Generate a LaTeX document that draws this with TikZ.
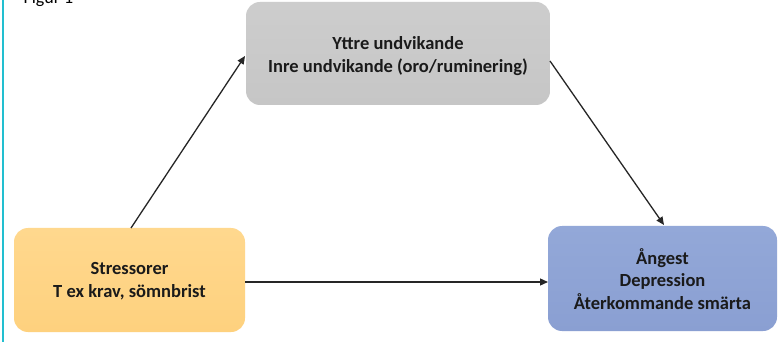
\documentclass[tikz,border=0pt]{standalone}
\usepackage{fontspec}
\setmainfont{Carlito}
\usetikzlibrary{arrows.meta}
\definecolor{grayfill}{HTML}{C6C6C6}
\definecolor{graytop}{HTML}{CDCDCD}
\definecolor{orangefill}{HTML}{FED17E}
\definecolor{orangetop}{HTML}{FFD88E}
\definecolor{bluefill}{HTML}{8A9FD2}
\definecolor{bluetop}{HTML}{93A8D8}
\definecolor{cyanline}{HTML}{22BFD0}
\definecolor{txt}{HTML}{1A1A1A}
\tikzset{
  box/.style={rounded corners=14pt, align=center, font=\bfseries\fontsize{18.5}{22.5}\selectfont, text=txt, inner sep=0pt},
  conn/.style={draw=black!85, line width=1.3pt, -{Triangle[length=8pt,width=7pt]}}
}
\begin{document}
\begin{tikzpicture}[x=1pt,y=-1pt]
\useasboundingbox (0,0) rectangle (778,347);
\clip (0,0) rectangle (778,347);
\fill[white] (0,0) rectangle (778,347);
\draw[cyanline, line width=1.5pt] (3,0) -- (3,342);
\node[anchor=base west, font=\fontsize{18}{20}\selectfont] (fig) at (20,3.5) {Figur 1};
% boxes
\shade[rounded corners=14pt, top color=graytop, bottom color=grayfill] (246,2) rectangle (550,105);
\node[box] (top) at (398,56) {Yttre undvikande\\Inre undvikande (oro/ruminering)};
\shade[rounded corners=14pt, top color=orangetop, bottom color=orangefill] (14,228) rectangle (245,332);
\node[box] (left) at (129.5,281) {Stressorer\\T ex krav, sömnbrist};
\shade[rounded corners=14pt, top color=bluetop, bottom color=bluefill] (548,226) rectangle (777,331);
\node[box] (right) at (662.5,279) {Ångest\\Depression\\Återkommande smärta};
\coordinate (a1s) at (131,228);
\coordinate (a1e) at (245,56);
\coordinate (a2s) at (550,61);
\coordinate (a2e) at (664,225);
\coordinate (a3s) at (245,282);
\coordinate (a3e) at (548,282);
\draw[conn] (a1s) -- (a1e);
\draw[conn] (a2s) -- (a2e);
\draw[conn] (a3s) -- (a3e);
\end{tikzpicture}
\end{document}
